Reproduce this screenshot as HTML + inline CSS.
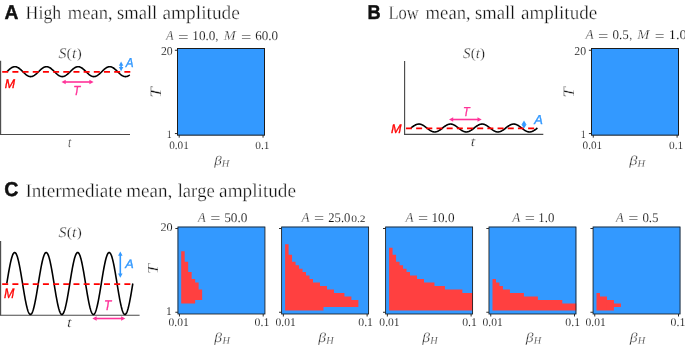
<!DOCTYPE html>
<html><head><meta charset="utf-8"><style>
html,body{margin:0;padding:0;background:#fff;overflow:hidden;}
svg{display:block;will-change:transform;text-rendering:geometricPrecision;}
text{font-kerning:none;font-variant-ligatures:none;}
</style></head><body>
<svg width="685" height="346" viewBox="0 0 685 346">
<rect width="685" height="346" fill="#fff"/>
<text transform="translate(4.62,18.60) scale(0.9586,1.0000)" font-family='"Liberation Sans", sans-serif' font-size="20.058" font-weight="bold" fill="#111" stroke="#111" stroke-width="0.45" stroke-linejoin="round">A</text>
<text transform="translate(367.38,18.60) scale(0.9100,1.0000)" font-family='"Liberation Sans", sans-serif' font-size="20.000" font-weight="bold" fill="#111" stroke="#111" stroke-width="0.45" stroke-linejoin="round">B</text>
<text transform="translate(4.14,196.40) scale(0.9827,1.0000)" font-family='"Liberation Sans", sans-serif' font-size="20.000" font-weight="bold" fill="#111" stroke="#111" stroke-width="0.45" stroke-linejoin="round">C</text>
<text transform="translate(25.59,18.90) scale(0.9141,1.0000)" font-family='"Liberation Serif", serif' font-size="19.500" fill="#111" stroke="#fff" stroke-width="0.3">High</text>
<text transform="translate(67.81,18.90) scale(0.9513,1.0000)" font-family='"Liberation Serif", serif' font-size="19.500" fill="#111" stroke="#fff" stroke-width="0.3">mean</text>
<text transform="translate(107.86,18.90)" font-family='"Liberation Serif", serif' font-size="19.500" fill="#111" stroke="#fff" stroke-width="0.3">,</text>
<text transform="translate(116.94,18.90) scale(0.9548,1.0000)" font-family='"Liberation Serif", serif' font-size="19.500" fill="#111" stroke="#fff" stroke-width="0.3">small</text>
<text transform="translate(162.52,18.90) scale(0.9906,1.0000)" font-family='"Liberation Serif", serif' font-size="19.500" fill="#111" stroke="#fff" stroke-width="0.3">amplitude</text>
<text transform="translate(388.52,18.90) scale(0.8462,1.0000)" font-family='"Liberation Serif", serif' font-size="19.500" fill="#111" stroke="#fff" stroke-width="0.3">Low</text>
<text transform="translate(425.61,18.90) scale(0.9561,1.0000)" font-family='"Liberation Serif", serif' font-size="19.500" fill="#111" stroke="#fff" stroke-width="0.3">mean</text>
<text transform="translate(465.86,18.90)" font-family='"Liberation Serif", serif' font-size="19.500" fill="#111" stroke="#fff" stroke-width="0.3">,</text>
<text transform="translate(474.94,18.90) scale(0.9548,1.0000)" font-family='"Liberation Serif", serif' font-size="19.500" fill="#111" stroke="#fff" stroke-width="0.3">small</text>
<text transform="translate(520.93,18.90) scale(0.9776,1.0000)" font-family='"Liberation Serif", serif' font-size="19.500" fill="#111" stroke="#fff" stroke-width="0.3">amplitude</text>
<text transform="translate(25.41,196.60) scale(0.9820,1.0000)" font-family='"Liberation Serif", serif' font-size="19.500" fill="#111" stroke="#fff" stroke-width="0.3">Intermediate</text>
<text transform="translate(126.20,196.60) scale(0.9754,1.0000)" font-family='"Liberation Serif", serif' font-size="19.500" fill="#111" stroke="#fff" stroke-width="0.3">mean</text>
<text transform="translate(167.56,196.60)" font-family='"Liberation Serif", serif' font-size="19.500" fill="#111" stroke="#fff" stroke-width="0.3">,</text>
<text transform="translate(177.63,196.60) scale(0.9524,1.0000)" font-family='"Liberation Serif", serif' font-size="19.500" fill="#111" stroke="#fff" stroke-width="0.3">large</text>
<text transform="translate(219.12,196.60) scale(0.9854,1.0000)" font-family='"Liberation Serif", serif' font-size="19.500" fill="#111" stroke="#fff" stroke-width="0.3">amplitude</text>
<line x1="0.6" y1="60.8" x2="0.6" y2="134.5" stroke="#4a4a4a" stroke-width="1.15"/>
<line x1="0.0" y1="134.5" x2="130" y2="134.5" stroke="#4a4a4a" stroke-width="1.15"/>
<path d="M7.00,71.65L7.33,71.32L7.67,71.00L8.00,70.67L8.33,70.36L8.66,70.04L9.00,69.74L9.33,69.44L9.66,69.15L9.99,68.87L10.33,68.61L10.66,68.36L10.99,68.12L11.32,67.90L11.66,67.69L11.99,67.51L12.32,67.34L12.65,67.19L12.99,67.05L13.32,66.94L13.65,66.85L13.99,66.78L14.32,66.73L14.65,66.71L14.98,66.70L15.32,66.72L15.65,66.75L15.98,66.81L16.31,66.89L16.65,67.00L16.98,67.12L17.31,67.26L17.64,67.42L17.98,67.60L18.31,67.79L18.64,68.01L18.97,68.24L19.31,68.48L19.64,68.74L19.97,69.01L20.31,69.29L20.64,69.59L20.97,69.89L21.30,70.20L21.64,70.51L21.97,70.84L22.30,71.16L22.63,71.49L22.97,71.81L23.30,72.14L23.63,72.46L23.96,72.79L24.30,73.10L24.63,73.41L24.96,73.71L25.29,74.01L25.63,74.29L25.96,74.56L26.29,74.82L26.63,75.06L26.96,75.29L27.29,75.51L27.62,75.70L27.96,75.88L28.29,76.04L28.62,76.18L28.95,76.30L29.29,76.41L29.62,76.49L29.95,76.55L30.28,76.58L30.62,76.60L30.95,76.59L31.28,76.57L31.61,76.52L31.95,76.45L32.28,76.36L32.61,76.25L32.95,76.11L33.28,75.96L33.61,75.79L33.94,75.61L34.28,75.40L34.61,75.18L34.94,74.94L35.27,74.69L35.61,74.43L35.94,74.15L36.27,73.86L36.60,73.56L36.94,73.26L37.27,72.94L37.60,72.63L37.93,72.30L38.27,71.98L38.60,71.65L38.93,71.32L39.27,71.00L39.60,70.67L39.93,70.36L40.26,70.04L40.60,69.74L40.93,69.44L41.26,69.15L41.59,68.87L41.93,68.61L42.26,68.36L42.59,68.12L42.92,67.90L43.26,67.69L43.59,67.51L43.92,67.34L44.25,67.19L44.59,67.05L44.92,66.94L45.25,66.85L45.59,66.78L45.92,66.73L46.25,66.71L46.58,66.70L46.92,66.72L47.25,66.75L47.58,66.81L47.91,66.89L48.25,67.00L48.58,67.12L48.91,67.26L49.24,67.42L49.58,67.60L49.91,67.79L50.24,68.01L50.57,68.24L50.91,68.48L51.24,68.74L51.57,69.01L51.91,69.29L52.24,69.59L52.57,69.89L52.90,70.20L53.24,70.51L53.57,70.84L53.90,71.16L54.23,71.49L54.57,71.81L54.90,72.14L55.23,72.46L55.56,72.79L55.90,73.10L56.23,73.41L56.56,73.71L56.89,74.01L57.23,74.29L57.56,74.56L57.89,74.82L58.23,75.06L58.56,75.29L58.89,75.51L59.22,75.70L59.56,75.88L59.89,76.04L60.22,76.18L60.55,76.30L60.89,76.41L61.22,76.49L61.55,76.55L61.88,76.58L62.22,76.60L62.55,76.59L62.88,76.57L63.21,76.52L63.55,76.45L63.88,76.36L64.21,76.25L64.55,76.11L64.88,75.96L65.21,75.79L65.54,75.61L65.88,75.40L66.21,75.18L66.54,74.94L66.87,74.69L67.21,74.43L67.54,74.15L67.87,73.86L68.20,73.56L68.54,73.26L68.87,72.94L69.20,72.63L69.53,72.30L69.87,71.98L70.20,71.65L70.53,71.32L70.87,71.00L71.20,70.67L71.53,70.36L71.86,70.04L72.20,69.74L72.53,69.44L72.86,69.15L73.19,68.87L73.53,68.61L73.86,68.36L74.19,68.12L74.52,67.90L74.86,67.69L75.19,67.51L75.52,67.34L75.85,67.19L76.19,67.05L76.52,66.94L76.85,66.85L77.19,66.78L77.52,66.73L77.85,66.71L78.18,66.70L78.52,66.72L78.85,66.75L79.18,66.81L79.51,66.89L79.85,67.00L80.18,67.12L80.51,67.26L80.84,67.42L81.18,67.60L81.51,67.79L81.84,68.01L82.17,68.24L82.51,68.48L82.84,68.74L83.17,69.01L83.51,69.29L83.84,69.59L84.17,69.89L84.50,70.20L84.84,70.51L85.17,70.84L85.50,71.16L85.83,71.49L86.17,71.81L86.50,72.14L86.83,72.46L87.16,72.79L87.50,73.10L87.83,73.41L88.16,73.71L88.49,74.01L88.83,74.29L89.16,74.56L89.49,74.82L89.83,75.06L90.16,75.29L90.49,75.51L90.82,75.70L91.16,75.88L91.49,76.04L91.82,76.18L92.15,76.30L92.49,76.41L92.82,76.49L93.15,76.55L93.48,76.58L93.82,76.60L94.15,76.59L94.48,76.57L94.81,76.52L95.15,76.45L95.48,76.36L95.81,76.25L96.15,76.11L96.48,75.96L96.81,75.79L97.14,75.61L97.48,75.40L97.81,75.18L98.14,74.94L98.47,74.69L98.81,74.43L99.14,74.15L99.47,73.86L99.80,73.56L100.14,73.26L100.47,72.94L100.80,72.63L101.13,72.30L101.47,71.98L101.80,71.65L102.13,71.32L102.47,71.00L102.80,70.67L103.13,70.36L103.46,70.04L103.80,69.74L104.13,69.44L104.46,69.15L104.79,68.87L105.13,68.61L105.46,68.36L105.79,68.12L106.12,67.90L106.46,67.69L106.79,67.51L107.12,67.34L107.45,67.19L107.79,67.05L108.12,66.94L108.45,66.85L108.79,66.78L109.12,66.73L109.45,66.71L109.78,66.70L110.12,66.72L110.45,66.75L110.78,66.81L111.11,66.89L111.45,67.00L111.78,67.12L112.11,67.26L112.44,67.42L112.78,67.60L113.11,67.79L113.44,68.01L113.77,68.24L114.11,68.48L114.44,68.74L114.77,69.01L115.11,69.29L115.44,69.59L115.77,69.89L116.10,70.20L116.44,70.51L116.77,70.84L117.10,71.16L117.43,71.49L117.77,71.81L118.10,72.14L118.43,72.46L118.76,72.79L119.10,73.10L119.43,73.41L119.76,73.71L120.09,74.01L120.43,74.29L120.76,74.56L121.09,74.82L121.43,75.06L121.76,75.29L122.09,75.51L122.42,75.70L122.76,75.88L123.09,76.04L123.42,76.18L123.75,76.30L124.09,76.41L124.42,76.49L124.75,76.55L125.08,76.58L125.42,76.60L125.75,76.59L126.08,76.57L126.41,76.52L126.75,76.45L127.08,76.36L127.41,76.25L127.75,76.11L128.08,75.96L128.41,75.79L128.74,75.61L129.08,75.40L129.41,75.18L129.74,74.94" fill="none" stroke="#000" stroke-width="1.6"/>
<line x1="2.2" y1="71.9" x2="130.3" y2="71.9" stroke="#ff0000" stroke-width="1.8" stroke-dasharray="6.0 4.18"/>
<line x1="121.10" y1="64.96" x2="121.10" y2="67.84" stroke="#3399ff" stroke-width="1.6"/>
<path d="M121.10,61.60L118.85,65.80L123.35,65.80Z" fill="#3399ff"/>
<path d="M121.10,71.20L118.85,67.00L123.35,67.00Z" fill="#3399ff"/>
<line x1="64.86" y1="82.00" x2="90.24" y2="82.00" stroke="#ff3399" stroke-width="1.6"/>
<path d="M61.50,82.00L65.70,84.25L65.70,79.75Z" fill="#ff3399"/>
<path d="M93.60,82.00L89.40,84.25L89.40,79.75Z" fill="#ff3399"/>
<text transform="translate(4.82,87.70) scale(0.9857,1.0000)" font-family='"Liberation Sans", sans-serif' font-size="12.646" font-style="italic" fill="#ff0000" stroke="#ff0000" stroke-width="0.35" stroke-linejoin="round">M</text>
<text transform="translate(125.68,66.50) scale(0.9100,1.0000)" font-family='"Liberation Sans", sans-serif' font-size="12.936" font-style="italic" fill="#3399ff" stroke="#3399ff" stroke-width="0.35" stroke-linejoin="round">A</text>
<text transform="translate(73.16,94.80) scale(0.8829,1.0000)" font-family='"Liberation Sans", sans-serif' font-size="13.082" font-style="italic" fill="#ff3399" stroke="#ff3399" stroke-width="0.35" stroke-linejoin="round">T</text>
<text transform="translate(58.61,57.50) scale(1.0954,1)" font-family='"Liberation Serif", serif' font-size="14.600" font-style="italic" fill="#111" stroke="#fff" stroke-width="0.3">S</text>
<text transform="translate(66.61,57.50) scale(1.0954,1)" font-family='"Liberation Serif", serif' font-size="14.600" fill="#111" stroke="#fff" stroke-width="0.3">(</text>
<text transform="translate(71.93,57.50) scale(1.0954,1)" font-family='"Liberation Serif", serif' font-size="14.600" font-style="italic" fill="#111" stroke="#fff" stroke-width="0.3">t</text>
<text transform="translate(76.38,57.50) scale(1.0954,1)" font-family='"Liberation Serif", serif' font-size="14.600" fill="#111" stroke="#fff" stroke-width="0.3">)</text>
<text transform="translate(67.98,146.66) scale(0.8253,1.0000)" font-family='"Liberation Serif", serif' font-size="14.317" font-style="italic" fill="#111" stroke="#fff" stroke-width="0.3">t</text>
<line x1="404.6" y1="60.9" x2="404.6" y2="134.4" stroke="#4a4a4a" stroke-width="1.15"/>
<line x1="404.0" y1="134.4" x2="543.3" y2="134.4" stroke="#4a4a4a" stroke-width="1.15"/>
<path d="M411.00,128.00L411.33,127.74L411.67,127.48L412.00,127.22L412.33,126.97L412.66,126.72L413.00,126.47L413.33,126.24L413.66,126.01L413.99,125.79L414.33,125.57L414.66,125.37L414.99,125.18L415.32,125.01L415.66,124.84L415.99,124.69L416.32,124.56L416.65,124.44L416.99,124.33L417.32,124.24L417.65,124.17L417.99,124.12L418.32,124.08L418.65,124.05L418.98,124.05L419.32,124.06L419.65,124.09L419.98,124.14L420.31,124.21L420.65,124.29L420.98,124.38L421.31,124.50L421.64,124.62L421.98,124.77L422.31,124.92L422.64,125.09L422.97,125.28L423.31,125.47L423.64,125.68L423.97,125.89L424.31,126.12L424.64,126.35L424.97,126.59L425.30,126.84L425.64,127.09L425.97,127.35L426.30,127.61L426.63,127.87L426.97,128.13L427.30,128.39L427.63,128.65L427.96,128.91L428.30,129.16L428.63,129.41L428.96,129.65L429.29,129.88L429.63,130.11L429.96,130.32L430.29,130.53L430.63,130.72L430.96,130.91L431.29,131.08L431.62,131.23L431.96,131.38L432.29,131.50L432.62,131.62L432.95,131.71L433.29,131.79L433.62,131.86L433.95,131.91L434.28,131.94L434.62,131.95L434.95,131.95L435.28,131.92L435.61,131.88L435.95,131.83L436.28,131.76L436.61,131.67L436.95,131.56L437.28,131.44L437.61,131.31L437.94,131.16L438.28,130.99L438.61,130.82L438.94,130.63L439.27,130.43L439.61,130.21L439.94,129.99L440.27,129.76L440.60,129.53L440.94,129.28L441.27,129.03L441.60,128.78L441.93,128.52L442.27,128.26L442.60,128.00L442.93,127.74L443.27,127.48L443.60,127.22L443.93,126.97L444.26,126.72L444.60,126.47L444.93,126.24L445.26,126.01L445.59,125.79L445.93,125.57L446.26,125.37L446.59,125.18L446.92,125.01L447.26,124.84L447.59,124.69L447.92,124.56L448.25,124.44L448.59,124.33L448.92,124.24L449.25,124.17L449.59,124.12L449.92,124.08L450.25,124.05L450.58,124.05L450.92,124.06L451.25,124.09L451.58,124.14L451.91,124.21L452.25,124.29L452.58,124.38L452.91,124.50L453.24,124.62L453.58,124.77L453.91,124.92L454.24,125.09L454.57,125.28L454.91,125.47L455.24,125.68L455.57,125.89L455.91,126.12L456.24,126.35L456.57,126.59L456.90,126.84L457.24,127.09L457.57,127.35L457.90,127.61L458.23,127.87L458.57,128.13L458.90,128.39L459.23,128.65L459.56,128.91L459.90,129.16L460.23,129.41L460.56,129.65L460.89,129.88L461.23,130.11L461.56,130.32L461.89,130.53L462.23,130.72L462.56,130.91L462.89,131.08L463.22,131.23L463.56,131.38L463.89,131.50L464.22,131.62L464.55,131.71L464.89,131.79L465.22,131.86L465.55,131.91L465.88,131.94L466.22,131.95L466.55,131.95L466.88,131.92L467.21,131.88L467.55,131.83L467.88,131.76L468.21,131.67L468.55,131.56L468.88,131.44L469.21,131.31L469.54,131.16L469.88,130.99L470.21,130.82L470.54,130.63L470.87,130.43L471.21,130.21L471.54,129.99L471.87,129.76L472.20,129.53L472.54,129.28L472.87,129.03L473.20,128.78L473.53,128.52L473.87,128.26L474.20,128.00L474.53,127.74L474.87,127.48L475.20,127.22L475.53,126.97L475.86,126.72L476.20,126.47L476.53,126.24L476.86,126.01L477.19,125.79L477.53,125.57L477.86,125.37L478.19,125.18L478.52,125.01L478.86,124.84L479.19,124.69L479.52,124.56L479.85,124.44L480.19,124.33L480.52,124.24L480.85,124.17L481.19,124.12L481.52,124.08L481.85,124.05L482.18,124.05L482.52,124.06L482.85,124.09L483.18,124.14L483.51,124.21L483.85,124.29L484.18,124.38L484.51,124.50L484.84,124.62L485.18,124.77L485.51,124.92L485.84,125.09L486.17,125.28L486.51,125.47L486.84,125.68L487.17,125.89L487.51,126.12L487.84,126.35L488.17,126.59L488.50,126.84L488.84,127.09L489.17,127.35L489.50,127.61L489.83,127.87L490.17,128.13L490.50,128.39L490.83,128.65L491.16,128.91L491.50,129.16L491.83,129.41L492.16,129.65L492.49,129.88L492.83,130.11L493.16,130.32L493.49,130.53L493.83,130.72L494.16,130.91L494.49,131.08L494.82,131.23L495.16,131.38L495.49,131.50L495.82,131.62L496.15,131.71L496.49,131.79L496.82,131.86L497.15,131.91L497.48,131.94L497.82,131.95L498.15,131.95L498.48,131.92L498.81,131.88L499.15,131.83L499.48,131.76L499.81,131.67L500.15,131.56L500.48,131.44L500.81,131.31L501.14,131.16L501.48,130.99L501.81,130.82L502.14,130.63L502.47,130.43L502.81,130.21L503.14,129.99L503.47,129.76L503.80,129.53L504.14,129.28L504.47,129.03L504.80,128.78L505.13,128.52L505.47,128.26L505.80,128.00L506.13,127.74L506.47,127.48L506.80,127.22L507.13,126.97L507.46,126.72L507.80,126.47L508.13,126.24L508.46,126.01L508.79,125.79L509.13,125.57L509.46,125.37L509.79,125.18L510.12,125.01L510.46,124.84L510.79,124.69L511.12,124.56L511.45,124.44L511.79,124.33L512.12,124.24L512.45,124.17L512.79,124.12L513.12,124.08L513.45,124.05L513.78,124.05L514.12,124.06L514.45,124.09L514.78,124.14L515.11,124.21L515.45,124.29L515.78,124.38L516.11,124.50L516.44,124.62L516.78,124.77L517.11,124.92L517.44,125.09L517.77,125.28L518.11,125.47L518.44,125.68L518.77,125.89L519.11,126.12L519.44,126.35L519.77,126.59L520.10,126.84L520.44,127.09L520.77,127.35L521.10,127.61L521.43,127.87L521.77,128.13L522.10,128.39L522.43,128.65L522.76,128.91L523.10,129.16L523.43,129.41L523.76,129.65L524.09,129.88L524.43,130.11L524.76,130.32L525.09,130.53L525.43,130.72L525.76,130.91L526.09,131.08L526.42,131.23L526.76,131.38L527.09,131.50L527.42,131.62L527.75,131.71L528.09,131.79L528.42,131.86L528.75,131.91L529.08,131.94L529.42,131.95L529.75,131.95L530.08,131.92L530.41,131.88L530.75,131.83L531.08,131.76L531.41,131.67L531.75,131.56L532.08,131.44L532.41,131.31L532.74,131.16L533.08,130.99L533.41,130.82L533.74,130.63L534.07,130.43L534.41,130.21L534.74,129.99L535.07,129.76L535.40,129.53L535.74,129.28L536.07,129.03L536.40,128.78L536.73,128.52L537.07,128.26L537.40,128.00" fill="none" stroke="#000" stroke-width="1.6"/>
<line x1="405.95" y1="128.45" x2="535.5" y2="128.45" stroke="#ff0000" stroke-width="1.8" stroke-dasharray="6.0 4.18"/>
<line x1="524.00" y1="123.86" x2="524.00" y2="125.24" stroke="#3399ff" stroke-width="1.6"/>
<path d="M524.00,120.50L521.50,124.70L526.50,124.70Z" fill="#3399ff"/>
<path d="M524.00,128.60L521.50,124.40L526.50,124.40Z" fill="#3399ff"/>
<line x1="452.36" y1="119.50" x2="478.34" y2="119.50" stroke="#ff3399" stroke-width="1.6"/>
<path d="M449.00,119.50L453.20,121.75L453.20,117.25Z" fill="#ff3399"/>
<path d="M481.70,119.50L477.50,121.75L477.50,117.25Z" fill="#ff3399"/>
<text transform="translate(390.91,132.80) scale(1.0190,1.0000)" font-family='"Liberation Sans", sans-serif' font-size="12.355" font-style="italic" fill="#ff0000" stroke="#ff0000" stroke-width="0.35" stroke-linejoin="round">M</text>
<text transform="translate(534.24,123.90) scale(1.0033,1.0000)" font-family='"Liberation Sans", sans-serif' font-size="12.936" font-style="italic" fill="#3399ff" stroke="#3399ff" stroke-width="0.35" stroke-linejoin="round">A</text>
<text transform="translate(463.01,115.90) scale(0.8529,1.0000)" font-family='"Liberation Sans", sans-serif' font-size="12.936" font-style="italic" fill="#ff3399" stroke="#ff3399" stroke-width="0.35" stroke-linejoin="round">T</text>
<text transform="translate(463.12,57.80) scale(1.0361,1)" font-family='"Liberation Serif", serif' font-size="14.600" font-style="italic" fill="#111" stroke="#fff" stroke-width="0.3">S</text>
<text transform="translate(470.69,57.80) scale(1.0361,1)" font-family='"Liberation Serif", serif' font-size="14.600" fill="#111" stroke="#fff" stroke-width="0.3">(</text>
<text transform="translate(475.72,57.80) scale(1.0361,1)" font-family='"Liberation Serif", serif' font-size="14.600" font-style="italic" fill="#111" stroke="#fff" stroke-width="0.3">t</text>
<text transform="translate(479.93,57.80) scale(1.0361,1)" font-family='"Liberation Serif", serif' font-size="14.600" fill="#111" stroke="#fff" stroke-width="0.3">)</text>
<text transform="translate(470.81,146.26) scale(1.1279,1.0000)" font-family='"Liberation Serif", serif' font-size="13.968" font-style="italic" fill="#111" stroke="#fff" stroke-width="0.3">t</text>
<line x1="0.6" y1="241.1" x2="0.6" y2="315.2" stroke="#4a4a4a" stroke-width="1.15"/>
<line x1="0.0" y1="315.2" x2="139.6" y2="315.2" stroke="#4a4a4a" stroke-width="1.15"/>
<path d="M6.80,283.50L7.13,281.45L7.46,279.40L7.80,277.37L8.13,275.37L8.46,273.41L8.79,271.49L9.13,269.62L9.46,267.81L9.79,266.08L10.12,264.42L10.46,262.84L10.79,261.35L11.12,259.97L11.45,258.68L11.79,257.50L12.12,256.44L12.45,255.50L12.78,254.68L13.12,253.99L13.45,253.42L13.78,252.99L14.11,252.69L14.45,252.53L14.78,252.51L15.11,252.62L15.44,252.86L15.78,253.24L16.11,253.76L16.44,254.40L16.77,255.18L17.11,256.07L17.44,257.09L17.77,258.23L18.10,259.47L18.44,260.82L18.77,262.27L19.10,263.82L19.43,265.45L19.77,267.15L20.10,268.94L20.43,270.78L20.76,272.68L21.10,274.63L21.43,276.62L21.76,278.64L22.09,280.68L22.43,282.73L22.76,284.78L23.09,286.83L23.42,288.87L23.76,290.88L24.09,292.86L24.42,294.80L24.75,296.69L25.08,298.52L25.42,300.28L25.75,301.97L26.08,303.58L26.41,305.10L26.75,306.53L27.08,307.85L27.41,309.07L27.74,310.17L28.08,311.16L28.41,312.03L28.74,312.77L29.07,313.38L29.41,313.86L29.74,314.21L30.07,314.42L30.40,314.50L30.74,314.44L31.07,314.24L31.40,313.91L31.73,313.45L32.07,312.85L32.40,312.13L32.73,311.28L33.06,310.30L33.40,309.21L33.73,308.01L34.06,306.70L34.39,305.28L34.73,303.77L35.06,302.18L35.39,300.50L35.72,298.74L36.06,296.92L36.39,295.04L36.72,293.10L37.05,291.13L37.39,289.12L37.72,287.09L38.05,285.04L38.38,282.99L38.72,280.93L39.05,278.89L39.38,276.87L39.71,274.88L40.05,272.92L40.38,271.02L40.71,269.16L41.04,267.37L41.38,265.65L41.71,264.01L42.04,262.46L42.37,261.00L42.71,259.63L43.04,258.38L43.37,257.23L43.70,256.19L44.03,255.28L44.37,254.49L44.70,253.83L45.03,253.30L45.36,252.90L45.70,252.64L46.03,252.51L46.36,252.52L46.69,252.67L47.03,252.95L47.36,253.36L47.69,253.91L48.02,254.59L48.36,255.39L48.69,256.32L49.02,257.36L49.35,258.53L49.69,259.80L50.02,261.17L50.35,262.65L50.68,264.21L51.02,265.87L51.35,267.59L51.68,269.39L52.01,271.25L52.35,273.17L52.68,275.13L53.01,277.12L53.34,279.15L53.68,281.19L54.01,283.24L54.34,285.30L54.67,287.34L55.01,289.37L55.34,291.38L55.67,293.35L56.00,295.27L56.34,297.15L56.67,298.96L57.00,300.71L57.33,302.38L57.67,303.97L58.00,305.47L58.33,306.87L58.66,308.17L59.00,309.36L59.33,310.43L59.66,311.39L59.99,312.23L60.33,312.93L60.66,313.51L60.99,313.96L61.32,314.28L61.65,314.46L61.99,314.50L62.32,314.40L62.65,314.17L62.98,313.81L63.32,313.31L63.65,312.68L63.98,311.93L64.31,311.04L64.65,310.04L64.98,308.92L65.31,307.69L65.64,306.35L65.98,304.91L66.31,303.38L66.64,301.76L66.97,300.06L67.31,298.29L67.64,296.45L67.97,294.56L68.30,292.61L68.64,290.63L68.97,288.62L69.30,286.58L69.63,284.53L69.97,282.47L70.30,280.42L70.63,278.38L70.96,276.37L71.30,274.39L71.63,272.44L71.96,270.55L72.29,268.71L72.63,266.94L72.96,265.24L73.29,263.62L73.62,262.09L73.96,260.65L74.29,259.31L74.62,258.08L74.95,256.96L75.29,255.96L75.62,255.07L75.95,254.32L76.28,253.69L76.62,253.19L76.95,252.83L77.28,252.60L77.61,252.50L77.95,252.54L78.28,252.72L78.61,253.04L78.94,253.49L79.27,254.07L79.61,254.77L79.94,255.61L80.27,256.57L80.60,257.64L80.94,258.83L81.27,260.13L81.60,261.53L81.93,263.03L82.27,264.62L82.60,266.29L82.93,268.04L83.26,269.85L83.60,271.73L83.93,273.65L84.26,275.62L84.59,277.63L84.93,279.66L85.26,281.70L85.59,283.76L85.92,285.81L86.26,287.85L86.59,289.88L86.92,291.87L87.25,293.83L87.59,295.75L87.92,297.61L88.25,299.41L88.58,301.13L88.92,302.79L89.25,304.35L89.58,305.83L89.91,307.20L90.25,308.47L90.58,309.64L90.91,310.68L91.24,311.61L91.58,312.41L91.91,313.09L92.24,313.64L92.57,314.05L92.91,314.33L93.24,314.48L93.57,314.49L93.90,314.36L94.24,314.10L94.57,313.70L94.90,313.17L95.23,312.51L95.57,311.72L95.90,310.81L96.23,309.77L96.56,308.62L96.89,307.37L97.23,306.00L97.56,304.54L97.89,302.99L98.22,301.35L98.56,299.63L98.89,297.84L99.22,295.98L99.55,294.08L99.89,292.12L100.22,290.13L100.55,288.11L100.88,286.07L101.22,284.01L101.55,281.96L101.88,279.91L102.21,277.88L102.55,275.87L102.88,273.90L103.21,271.96L103.54,270.08L103.88,268.26L104.21,266.50L104.54,264.82L104.87,263.23L105.21,261.72L105.54,260.30L105.87,258.99L106.20,257.79L106.54,256.70L106.87,255.72L107.20,254.87L107.53,254.15L107.87,253.55L108.20,253.09L108.53,252.76L108.86,252.56L109.20,252.50L109.53,252.58L109.86,252.79L110.19,253.14L110.53,253.62L110.86,254.23L111.19,254.97L111.52,255.84L111.86,256.83L112.19,257.93L112.52,259.15L112.85,260.47L113.19,261.90L113.52,263.42L113.85,265.03L114.18,266.72L114.52,268.48L114.85,270.31L115.18,272.20L115.51,274.14L115.84,276.12L116.18,278.13L116.51,280.17L116.84,282.22L117.17,284.27L117.51,286.32L117.84,288.36L118.17,290.38L118.50,292.37L118.84,294.32L119.17,296.22L119.50,298.06L119.83,299.85L120.17,301.55L120.50,303.18L120.83,304.73L121.16,306.18L121.50,307.53L121.83,308.77L122.16,309.91L122.49,310.93L122.83,311.82L123.16,312.60L123.49,313.24L123.82,313.76L124.16,314.14L124.49,314.38L124.82,314.49L125.15,314.47L125.49,314.31L125.82,314.01L126.15,313.58L126.48,313.01L126.82,312.32L127.15,311.50L127.48,310.56L127.81,309.50L128.15,308.32L128.48,307.03L128.81,305.65L129.14,304.16L129.48,302.58L129.81,300.92L130.14,299.19L130.47,297.38L130.81,295.51L131.14,293.59L131.47,291.63L131.80,289.63L132.14,287.60L132.47,285.55L132.80,283.50" fill="none" stroke="#000" stroke-width="1.6"/>
<line x1="2.2" y1="284.1" x2="131.6" y2="284.1" stroke="#ff0000" stroke-width="1.8" stroke-dasharray="6.0 4.18"/>
<line x1="120.30" y1="254.86" x2="120.30" y2="274.34" stroke="#3399ff" stroke-width="1.6"/>
<path d="M120.30,251.50L118.05,255.70L122.55,255.70Z" fill="#3399ff"/>
<path d="M120.30,277.70L118.05,273.50L122.55,273.50Z" fill="#3399ff"/>
<line x1="95.76" y1="318.50" x2="121.94" y2="318.50" stroke="#ff3399" stroke-width="1.6"/>
<path d="M92.40,318.50L96.60,320.75L96.60,316.25Z" fill="#ff3399"/>
<path d="M125.30,318.50L121.10,320.75L121.10,316.25Z" fill="#ff3399"/>
<text transform="translate(3.92,297.80) scale(0.8933,1.0000)" font-family='"Liberation Sans", sans-serif' font-size="13.954" font-style="italic" fill="#ff0000" stroke="#ff0000" stroke-width="0.35" stroke-linejoin="round">M</text>
<text transform="translate(125.13,267.70) scale(1.0383,1.0000)" font-family='"Liberation Sans", sans-serif' font-size="12.210" font-style="italic" fill="#3399ff" stroke="#3399ff" stroke-width="0.35" stroke-linejoin="round">A</text>
<text transform="translate(103.92,309.50) scale(0.8559,1.0000)" font-family='"Liberation Sans", sans-serif' font-size="14.099" font-style="italic" fill="#ff3399" stroke="#ff3399" stroke-width="0.35" stroke-linejoin="round">T</text>
<text transform="translate(58.61,236.50) scale(1.1052,1)" font-family='"Liberation Serif", serif' font-size="14.600" font-style="italic" fill="#111" stroke="#fff" stroke-width="0.3">S</text>
<text transform="translate(66.68,236.50) scale(1.1052,1)" font-family='"Liberation Serif", serif' font-size="14.600" fill="#111" stroke="#fff" stroke-width="0.3">(</text>
<text transform="translate(72.05,236.50) scale(1.1052,1)" font-family='"Liberation Serif", serif' font-size="14.600" font-style="italic" fill="#111" stroke="#fff" stroke-width="0.3">t</text>
<text transform="translate(76.54,236.50) scale(1.1052,1)" font-family='"Liberation Serif", serif' font-size="14.600" fill="#111" stroke="#fff" stroke-width="0.3">)</text>
<text transform="translate(67.06,326.76) scale(1.1829,1.0000)" font-family='"Liberation Serif", serif' font-size="14.317" font-style="italic" fill="#111" stroke="#fff" stroke-width="0.3">t</text>
<rect x="177.45" y="48.55" width="87.35" height="86.75" fill="#3399ff"/>
<rect x="177.50" y="48.50" width="87.00" height="86.65" fill="none" stroke="#1c1c1c" stroke-width="1.0"/>
<line x1="174.90" y1="50.28" x2="177.50" y2="50.28" stroke="#222" stroke-width="0.95"/>
<line x1="174.90" y1="133.56" x2="177.50" y2="133.56" stroke="#222" stroke-width="0.95"/>
<line x1="179.20" y1="135.15" x2="179.20" y2="137.65" stroke="#222" stroke-width="0.95"/>
<line x1="263.05" y1="135.15" x2="263.05" y2="137.65" stroke="#222" stroke-width="0.95"/>
<text transform="translate(160.88,54.88) scale(0.9801,1.0000)" font-family='"Liberation Serif", serif' font-size="12.003" fill="#111" stroke="#fff" stroke-width="0.12">20</text>
<text transform="translate(166.73,137.70) scale(0.8636,1.0000)" font-family='"Liberation Serif", serif' font-size="11.512" fill="#111" stroke="#fff" stroke-width="0.12">1</text>
<text transform="translate(161.20,97.64) rotate(-90) scale(1.1909,1)" font-family='"Liberation Serif", serif' font-size="15.883" font-style="italic" fill="#111" stroke="#fff" stroke-width="0.3">T</text>
<text transform="translate(169.17,148.64)" font-family='"Liberation Serif", serif' font-size="11.190" fill="#111" stroke="#fff" stroke-width="0.12">0.01</text>
<text transform="translate(255.27,148.54) scale(1.0299,1.0000)" font-family='"Liberation Serif", serif' font-size="11.042" fill="#111" stroke="#fff" stroke-width="0.12">0.1</text>
<text transform="translate(214.24,164.69) scale(1.1382,1.0000)" font-family='"Liberation Serif", serif' font-size="13.195" font-style="italic" fill="#111" stroke="#fff" stroke-width="0.3">β</text>
<text transform="translate(221.81,166.70) scale(0.9882,1.0000)" font-family='"Liberation Serif", serif' font-size="10.538" font-style="italic" fill="#111" stroke="#fff" stroke-width="0.3">H</text>
<text transform="translate(192.34,40.41) scale(0.9944,1.0000)" font-family='"Liberation Serif", serif' font-size="13.251" fill="#111" stroke="#fff" stroke-width="0.12">10.0</text>
<text transform="translate(255.34,40.41) scale(0.9812,1.0000)" font-family='"Liberation Serif", serif' font-size="13.251" fill="#111" stroke="#fff" stroke-width="0.12">60.0</text>
<text transform="translate(165.98,40.40) scale(0.9203,1.0000)" font-family='"Liberation Serif", serif' font-size="13.482" font-style="italic" fill="#111" stroke="#fff" stroke-width="0.3">A</text>
<text transform="translate(177.96,41.28) scale(1.5759,1.0000)" font-family='"Liberation Serif", serif' font-size="12.000" fill="#111" stroke="#fff" stroke-width="0.12">=</text>
<text transform="translate(215.49,40.41) scale(0.8108,1.0000)" font-family='"Liberation Serif", serif' font-size="13.251" fill="#111" stroke="#fff" stroke-width="0.12">,</text>
<text transform="translate(223.77,40.40) scale(1.0574,1.0000)" font-family='"Liberation Serif", serif' font-size="13.592" font-style="italic" fill="#111" stroke="#fff" stroke-width="0.3">M</text>
<text transform="translate(241.08,41.28) scale(1.5401,1.0000)" font-family='"Liberation Serif", serif' font-size="12.000" fill="#111" stroke="#fff" stroke-width="0.12">=</text>
<rect x="591.5" y="48.55" width="87.35" height="86.75" fill="#3399ff"/>
<rect x="591.50" y="48.50" width="87.00" height="86.65" fill="none" stroke="#1c1c1c" stroke-width="1.0"/>
<line x1="588.90" y1="50.28" x2="591.50" y2="50.28" stroke="#222" stroke-width="0.95"/>
<line x1="588.90" y1="133.56" x2="591.50" y2="133.56" stroke="#222" stroke-width="0.95"/>
<line x1="593.25" y1="135.15" x2="593.25" y2="137.65" stroke="#222" stroke-width="0.95"/>
<line x1="677.10" y1="135.15" x2="677.10" y2="137.65" stroke="#222" stroke-width="0.95"/>
<text transform="translate(574.28,54.88) scale(0.9801,1.0000)" font-family='"Liberation Serif", serif' font-size="12.003" fill="#111" stroke="#fff" stroke-width="0.12">20</text>
<text transform="translate(580.73,137.70) scale(0.8636,1.0000)" font-family='"Liberation Serif", serif' font-size="11.512" fill="#111" stroke="#fff" stroke-width="0.12">1</text>
<text transform="translate(574.30,97.75) rotate(-90) scale(1.2024,1)" font-family='"Liberation Serif", serif' font-size="15.883" font-style="italic" fill="#111" stroke="#fff" stroke-width="0.3">T</text>
<text transform="translate(582.57,148.64)" font-family='"Liberation Serif", serif' font-size="11.190" fill="#111" stroke="#fff" stroke-width="0.12">0.01</text>
<text transform="translate(668.97,148.54) scale(1.0299,1.0000)" font-family='"Liberation Serif", serif' font-size="11.042" fill="#111" stroke="#fff" stroke-width="0.12">0.1</text>
<text transform="translate(629.36,165.04) scale(1.2215,1.0000)" font-family='"Liberation Serif", serif' font-size="13.413" font-style="italic" fill="#111" stroke="#fff" stroke-width="0.3">β</text>
<text transform="translate(637.61,166.90) scale(0.9882,1.0000)" font-family='"Liberation Serif", serif' font-size="10.538" font-style="italic" fill="#111" stroke="#fff" stroke-width="0.3">H</text>
<text transform="translate(612.61,39.31) scale(0.9780,1.0000)" font-family='"Liberation Serif", serif' font-size="13.251" fill="#111" stroke="#fff" stroke-width="0.12">0.5</text>
<text transform="translate(668.84,39.31) scale(1.0809,1.0000)" font-family='"Liberation Serif", serif' font-size="13.251" fill="#111" stroke="#fff" stroke-width="0.12">1.0</text>
<text transform="translate(585.43,39.30) scale(0.9869,1.0000)" font-family='"Liberation Serif", serif' font-size="13.482" font-style="italic" fill="#111" stroke="#fff" stroke-width="0.3">A</text>
<text transform="translate(598.08,40.18) scale(1.5401,1.0000)" font-family='"Liberation Serif", serif' font-size="12.000" fill="#111" stroke="#fff" stroke-width="0.12">=</text>
<text transform="translate(629.62,39.31) scale(0.7601,1.0000)" font-family='"Liberation Serif", serif' font-size="13.251" fill="#111" stroke="#fff" stroke-width="0.12">,</text>
<text transform="translate(637.37,39.30) scale(1.0739,1.0000)" font-family='"Liberation Serif", serif' font-size="13.592" font-style="italic" fill="#111" stroke="#fff" stroke-width="0.3">M</text>
<text transform="translate(654.63,40.18) scale(1.4506,1.0000)" font-family='"Liberation Serif", serif' font-size="12.000" fill="#111" stroke="#fff" stroke-width="0.12">=</text>
<rect x="177.7" y="226.75" width="87.25" height="87.25" fill="#3399ff"/>
<path d="M181.19,251.18h3.49v52.35h-3.49zM184.68,261.65h3.49v41.88h-3.49zM188.17,272.12h3.49v31.41h-3.49zM191.66,279.10h3.49v24.43h-3.49zM195.15,282.59h3.49v17.45h-3.49zM198.64,289.57h3.49v10.47h-3.49z" fill="#ff4040"/>
<rect x="177.95" y="227.00" width="87.00" height="87.00" fill="none" stroke="#1c1c1c" stroke-width="0.85"/>
<line x1="175.35" y1="228.50" x2="177.95" y2="228.50" stroke="#222" stroke-width="0.95"/>
<line x1="175.35" y1="312.25" x2="177.95" y2="312.25" stroke="#222" stroke-width="0.95"/>
<line x1="179.44" y1="314.00" x2="179.44" y2="316.50" stroke="#222" stroke-width="0.95"/>
<line x1="263.20" y1="314.00" x2="263.20" y2="316.50" stroke="#222" stroke-width="0.95"/>
<text transform="translate(160.46,231.09) scale(1.0422,1.0000)" font-family='"Liberation Serif", serif' font-size="11.707" fill="#111" stroke="#fff" stroke-width="0.12">20</text>
<text transform="translate(166.08,314.80) scale(0.9985,1.0000)" font-family='"Liberation Serif", serif' font-size="11.664" fill="#111" stroke="#fff" stroke-width="0.12">1</text>
<text transform="translate(157.90,273.98) rotate(-90) scale(1.1790,1)" font-family='"Liberation Serif", serif' font-size="15.272" font-style="italic" fill="#111" stroke="#fff" stroke-width="0.3">T</text>
<text transform="translate(168.56,326.33) scale(0.9817,1.0000)" font-family='"Liberation Serif", serif' font-size="11.779" fill="#111" stroke="#fff" stroke-width="0.12">0.01</text>
<text transform="translate(254.55,326.33) scale(1.0024,1.0000)" font-family='"Liberation Serif", serif' font-size="11.779" fill="#111" stroke="#fff" stroke-width="0.12">0.1</text>
<text transform="translate(214.35,341.70) scale(1.1447,1.0000)" font-family='"Liberation Serif", serif' font-size="13.632" font-style="italic" fill="#111" stroke="#fff" stroke-width="0.3">β</text>
<text transform="translate(222.41,343.50) scale(0.9485,1.0000)" font-family='"Liberation Serif", serif' font-size="10.843" font-style="italic" fill="#111" stroke="#fff" stroke-width="0.3">H</text>
<text transform="translate(224.13,221.61)" font-family='"Liberation Serif", serif' font-size="13.251" fill="#111" stroke="#fff" stroke-width="0.12">50.0</text>
<text transform="translate(197.72,221.60) scale(0.9758,1.0000)" font-family='"Liberation Serif", serif' font-size="13.482" font-style="italic" fill="#111" stroke="#fff" stroke-width="0.3">A</text>
<text transform="translate(210.20,222.48) scale(1.5043,1.0000)" font-family='"Liberation Serif", serif' font-size="12.000" fill="#111" stroke="#fff" stroke-width="0.12">=</text>
<rect x="281.6" y="226.75" width="87.25" height="87.25" fill="#3399ff"/>
<path d="M285.09,244.20h3.49v66.31h-3.49zM288.58,254.67h3.49v55.84h-3.49zM292.07,261.65h3.49v48.86h-3.49zM295.56,265.14h3.49v45.37h-3.49zM299.05,268.63h3.49v41.88h-3.49zM302.54,272.12h3.49v38.39h-3.49zM306.03,275.61h3.49v34.90h-3.49zM309.52,279.10h3.49v31.41h-3.49zM313.01,282.59h6.98v27.92h-6.98zM319.99,286.08h3.49v24.43h-3.49zM323.48,286.08h3.49v20.94h-3.49zM326.97,289.57h6.98v17.45h-6.98zM333.95,293.06h10.47v13.96h-10.47zM344.42,296.55h6.98v10.47h-6.98zM351.40,300.04h6.98v6.98h-6.98z" fill="#ff4040"/>
<rect x="281.60" y="227.00" width="87.00" height="87.00" fill="none" stroke="#1c1c1c" stroke-width="0.85"/>
<line x1="279.00" y1="228.50" x2="281.60" y2="228.50" stroke="#222" stroke-width="0.95"/>
<line x1="279.00" y1="312.25" x2="281.60" y2="312.25" stroke="#222" stroke-width="0.95"/>
<line x1="283.35" y1="314.00" x2="283.35" y2="316.50" stroke="#222" stroke-width="0.95"/>
<line x1="367.11" y1="314.00" x2="367.11" y2="316.50" stroke="#222" stroke-width="0.95"/>
<text transform="translate(275.56,326.33) scale(0.9817,1.0000)" font-family='"Liberation Serif", serif' font-size="11.779" fill="#111" stroke="#fff" stroke-width="0.12">0.01</text>
<text transform="translate(358.25,326.33) scale(1.0024,1.0000)" font-family='"Liberation Serif", serif' font-size="11.779" fill="#111" stroke="#fff" stroke-width="0.12">0.1</text>
<text transform="translate(318.25,341.70) scale(1.1447,1.0000)" font-family='"Liberation Serif", serif' font-size="13.632" font-style="italic" fill="#111" stroke="#fff" stroke-width="0.3">β</text>
<text transform="translate(326.31,343.50) scale(0.9485,1.0000)" font-family='"Liberation Serif", serif' font-size="10.843" font-style="italic" fill="#111" stroke="#fff" stroke-width="0.3">H</text>
<text transform="translate(328.24,221.61) scale(0.9547,1.0000)" font-family='"Liberation Serif", serif' font-size="13.251" fill="#111" stroke="#fff" stroke-width="0.12">25.0</text>
<text transform="translate(301.62,221.60) scale(0.9758,1.0000)" font-family='"Liberation Serif", serif' font-size="13.482" font-style="italic" fill="#111" stroke="#fff" stroke-width="0.3">A</text>
<text transform="translate(314.10,222.48) scale(1.5043,1.0000)" font-family='"Liberation Serif", serif' font-size="12.000" fill="#111" stroke="#fff" stroke-width="0.12">=</text>
<rect x="385.6" y="226.75" width="87.25" height="87.25" fill="#3399ff"/>
<path d="M389.09,247.69h3.49v62.82h-3.49zM392.58,254.67h3.49v55.84h-3.49zM396.07,261.65h3.49v48.86h-3.49zM399.56,265.14h3.49v45.37h-3.49zM403.05,268.63h3.49v41.88h-3.49zM406.54,272.12h3.49v38.39h-3.49zM410.03,275.61h6.98v34.90h-6.98zM417.01,279.10h6.98v31.41h-6.98zM423.99,282.59h10.47v27.92h-10.47zM434.46,286.08h10.47v24.43h-10.47zM444.93,289.57h17.45v20.94h-17.45zM462.38,293.06h10.47v17.45h-10.47z" fill="#ff4040"/>
<rect x="385.60" y="227.00" width="87.00" height="87.00" fill="none" stroke="#1c1c1c" stroke-width="0.85"/>
<line x1="383.00" y1="228.50" x2="385.60" y2="228.50" stroke="#222" stroke-width="0.95"/>
<line x1="383.00" y1="312.25" x2="385.60" y2="312.25" stroke="#222" stroke-width="0.95"/>
<line x1="387.35" y1="314.00" x2="387.35" y2="316.50" stroke="#222" stroke-width="0.95"/>
<line x1="471.11" y1="314.00" x2="471.11" y2="316.50" stroke="#222" stroke-width="0.95"/>
<text transform="translate(379.36,326.33) scale(0.9817,1.0000)" font-family='"Liberation Serif", serif' font-size="11.779" fill="#111" stroke="#fff" stroke-width="0.12">0.01</text>
<text transform="translate(462.15,326.33) scale(1.0024,1.0000)" font-family='"Liberation Serif", serif' font-size="11.779" fill="#111" stroke="#fff" stroke-width="0.12">0.1</text>
<text transform="translate(422.25,341.70) scale(1.1447,1.0000)" font-family='"Liberation Serif", serif' font-size="13.632" font-style="italic" fill="#111" stroke="#fff" stroke-width="0.3">β</text>
<text transform="translate(430.31,343.50) scale(0.9485,1.0000)" font-family='"Liberation Serif", serif' font-size="10.843" font-style="italic" fill="#111" stroke="#fff" stroke-width="0.3">H</text>
<text transform="translate(431.44,221.61) scale(0.9944,1.0000)" font-family='"Liberation Serif", serif' font-size="13.251" fill="#111" stroke="#fff" stroke-width="0.12">10.0</text>
<text transform="translate(405.42,221.60) scale(0.9758,1.0000)" font-family='"Liberation Serif", serif' font-size="13.482" font-style="italic" fill="#111" stroke="#fff" stroke-width="0.3">A</text>
<text transform="translate(417.90,222.48) scale(1.5043,1.0000)" font-family='"Liberation Serif", serif' font-size="12.000" fill="#111" stroke="#fff" stroke-width="0.12">=</text>
<rect x="489.0" y="226.75" width="87.25" height="87.25" fill="#3399ff"/>
<path d="M492.49,279.10h3.49v31.41h-3.49zM495.98,282.59h3.49v27.92h-3.49zM499.47,286.08h3.49v24.43h-3.49zM502.96,289.57h6.98v20.94h-6.98zM509.94,293.06h13.96v17.45h-13.96zM523.90,296.55h13.96v13.96h-13.96zM537.86,300.04h24.43v10.47h-24.43zM562.29,303.53h13.96v6.98h-13.96z" fill="#ff4040"/>
<rect x="488.95" y="227.00" width="87.00" height="87.00" fill="none" stroke="#1c1c1c" stroke-width="0.85"/>
<line x1="486.35" y1="228.50" x2="488.95" y2="228.50" stroke="#222" stroke-width="0.95"/>
<line x1="486.35" y1="312.25" x2="488.95" y2="312.25" stroke="#222" stroke-width="0.95"/>
<line x1="490.75" y1="314.00" x2="490.75" y2="316.50" stroke="#222" stroke-width="0.95"/>
<line x1="574.50" y1="314.00" x2="574.50" y2="316.50" stroke="#222" stroke-width="0.95"/>
<text transform="translate(482.56,326.33) scale(0.9817,1.0000)" font-family='"Liberation Serif", serif' font-size="11.779" fill="#111" stroke="#fff" stroke-width="0.12">0.01</text>
<text transform="translate(565.35,326.33) scale(1.0024,1.0000)" font-family='"Liberation Serif", serif' font-size="11.779" fill="#111" stroke="#fff" stroke-width="0.12">0.1</text>
<text transform="translate(525.65,341.70) scale(1.1447,1.0000)" font-family='"Liberation Serif", serif' font-size="13.632" font-style="italic" fill="#111" stroke="#fff" stroke-width="0.3">β</text>
<text transform="translate(533.71,343.50) scale(0.9485,1.0000)" font-family='"Liberation Serif", serif' font-size="10.843" font-style="italic" fill="#111" stroke="#fff" stroke-width="0.3">H</text>
<text transform="translate(538.27,221.61) scale(0.9668,1.0000)" font-family='"Liberation Serif", serif' font-size="13.251" fill="#111" stroke="#fff" stroke-width="0.12">1.0</text>
<text transform="translate(512.22,221.60) scale(0.9758,1.0000)" font-family='"Liberation Serif", serif' font-size="13.482" font-style="italic" fill="#111" stroke="#fff" stroke-width="0.3">A</text>
<text transform="translate(524.70,222.48) scale(1.5043,1.0000)" font-family='"Liberation Serif", serif' font-size="12.000" fill="#111" stroke="#fff" stroke-width="0.12">=</text>
<rect x="593.0" y="226.75" width="87.25" height="87.25" fill="#3399ff"/>
<path d="M596.49,293.06h3.49v17.45h-3.49zM599.98,296.55h6.98v13.96h-6.98zM606.96,300.04h6.98v10.47h-6.98zM613.94,303.53h6.98v3.49h-6.98z" fill="#ff4040"/>
<rect x="593.05" y="227.00" width="87.00" height="87.00" fill="none" stroke="#1c1c1c" stroke-width="0.85"/>
<line x1="590.45" y1="228.50" x2="593.05" y2="228.50" stroke="#222" stroke-width="0.95"/>
<line x1="590.45" y1="312.25" x2="593.05" y2="312.25" stroke="#222" stroke-width="0.95"/>
<line x1="594.75" y1="314.00" x2="594.75" y2="316.50" stroke="#222" stroke-width="0.95"/>
<line x1="678.50" y1="314.00" x2="678.50" y2="316.50" stroke="#222" stroke-width="0.95"/>
<text transform="translate(585.56,326.33) scale(0.9817,1.0000)" font-family='"Liberation Serif", serif' font-size="11.779" fill="#111" stroke="#fff" stroke-width="0.12">0.01</text>
<text transform="translate(670.55,326.33) scale(1.0024,1.0000)" font-family='"Liberation Serif", serif' font-size="11.779" fill="#111" stroke="#fff" stroke-width="0.12">0.1</text>
<text transform="translate(629.65,341.70) scale(1.1447,1.0000)" font-family='"Liberation Serif", serif' font-size="13.632" font-style="italic" fill="#111" stroke="#fff" stroke-width="0.3">β</text>
<text transform="translate(637.71,343.50) scale(0.9485,1.0000)" font-family='"Liberation Serif", serif' font-size="10.843" font-style="italic" fill="#111" stroke="#fff" stroke-width="0.3">H</text>
<text transform="translate(642.41,221.61) scale(0.9716,1.0000)" font-family='"Liberation Serif", serif' font-size="13.251" fill="#111" stroke="#fff" stroke-width="0.12">0.5</text>
<text transform="translate(615.72,221.60) scale(0.9758,1.0000)" font-family='"Liberation Serif", serif' font-size="13.482" font-style="italic" fill="#111" stroke="#fff" stroke-width="0.3">A</text>
<text transform="translate(628.20,222.48) scale(1.5043,1.0000)" font-family='"Liberation Serif", serif' font-size="12.000" fill="#111" stroke="#fff" stroke-width="0.12">=</text>
<text transform="translate(351.16,222.16) scale(1.1743,1.0000)" font-family='"Liberation Serif", serif' font-size="9.865" fill="#111" stroke="#fff" stroke-width="0.12">0.2</text>
</svg>
</body></html>
